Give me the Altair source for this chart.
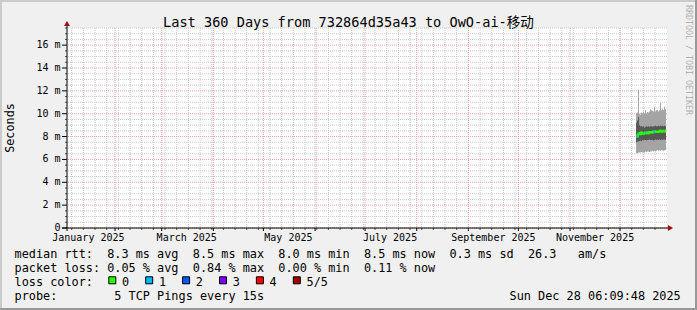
import math
import altair as alt
import pandas as pd

# ---------------- values ----------------
title_text = "Last 360 Days from 732864d35a43 to OwO-ai-移动"
y_title = "Seconds"
watermark = "RRDTOOL / TOBI OETIKER"

# smoke columns (ms), one per RRD step
rtt_min = [6.55, 6.55, 6.6, 6.6, 6.6, 6.65, 6.6, 6.65, 6.6, 6.7, 6.65, 6.7, 6.7, 6.65, 6.7,
           6.7, 6.75, 6.7, 6.75, 6.7, 6.75, 6.8, 6.75, 6.8, 6.75, 6.8, 6.8, 6.75, 6.8, 6.8]
rtt_p2 = [7.5, 7.55, 7.6, 7.6, 7.65, 7.6, 7.7, 7.65, 7.7, 7.7, 7.65, 7.7, 7.7, 7.75, 7.7,
          7.7, 7.7, 7.65, 7.7, 7.75, 7.7, 7.75, 7.7, 7.75, 7.7, 7.75, 7.7, 7.75, 7.75, 7.7]
rtt_median = [8.1, 8.0, 8.2, 8.3, 8.2, 8.35, 8.3, 8.25, 8.3, 8.35, 8.3, 8.35, 8.3, 8.4, 8.35,
              8.4, 8.35, 8.45, 8.4, 8.45, 8.4, 8.45, 8.4, 8.45, 8.5, 8.45, 8.45, 8.5, 8.45, 8.5]
rtt_p4 = [9.2, 9.4, 9.7, 9.0, 8.9, 8.9, 8.85, 8.9, 8.8, 8.85, 8.9, 8.85, 8.9, 8.85, 8.9,
          8.9, 8.85, 8.9, 8.9, 8.95, 8.9, 8.9, 8.95, 8.9, 8.95, 8.9, 8.95, 8.9, 8.95, 8.9]
rtt_max = [10.0, 10.1, 12.1, 10.0, 9.9, 10.1, 10.0, 10.2, 10.0, 10.3, 10.0, 10.15, 10.1, 10.2, 10.4,
           10.3, 10.25, 10.2, 10.6, 10.2, 10.3, 10.35, 10.2, 10.3, 10.95, 10.3, 10.4, 10.3, 10.6, 10.4]
loss_pct = [0.84, 0.4, 0, 0, 0, 0, 0, 0, 0, 0.3, 0, 0, 0, 0, 0,
            0, 0, 0.25, 0.2, 0, 0, 0, 0, 0, 0, 0, 0, 0, 0, 0]
first_sample = "2025-12-10 14:00"
step_minutes = 864          # 0.6 day per RRD step
pings = 5

x_start = "2025-01-03 04:00"
x_end = "2025-12-29 04:00"
y_max = 17.5

y_label_values = [0, 2, 4, 6, 8, 10, 12, 14, 16]
month_label_dates = ["2025-01-16", "2025-03-16", "2025-05-16", "2025-07-16", "2025-09-16", "2025-11-16"]
month_label_text = ["January 2025", "March 2025", "May 2025", "July 2025", "September 2025", "November 2025"]

loss_levels = ["0", "1", "2", "3", "4", "5/5"]
loss_colors = ["#26ff00", "#00b8ff", "#0059ff", "#7e00ff", "#ff0000", "#a10000"]

rtt_stats = [8.3, 8.5, 8.0, 8.5, 0.3]   # avg max min now sd
rtt_am = 26.3
loss_stats = [0.05, 0.84, 0.00, 0.11]   # avg max min now
probe_text = "5 TCP Pings every 15s"
stamp = "Sun Dec 28 06:09:48 2025"

# ---------------- helpers ----------------
MONO = "DejaVu Sans Mono"
NB = "\u00a0"


def ms(ts):
    return int(pd.Timestamp(ts, tz="UTC").value // 10**6)


def ms_index(idx):
    return [int(v // 10**6) for v in idx.asi8]


xs = alt.Scale(type="utc", domain=[ms(x_start), ms(x_end)], nice=False)
ys = alt.Scale(domain=[0, y_max], nice=False, zero=False)


def X(f="t"):
    return alt.X(f + ":T", scale=xs, axis=None)


def Y(f="v"):
    return alt.Y(f + ":Q", scale=ys, axis=None)


def txt(s, x, y, **kw):
    return alt.Chart(pd.DataFrame({"s": [s]})).mark_text(**kw).encode(
        text="s:N", x=alt.value(x), y=alt.value(y))


def nb(s):
    return s.replace(" ", NB)


# ---------------- tables ----------------
t_idx = pd.date_range(first_sample, periods=len(rtt_median), freq=f"{step_minutes}min", tz="UTC")
t_ms = ms_index(t_idx)
smoke = pd.DataFrame({
    "t": t_ms,
    "t_end": [v + step_minutes * 60000 for v in t_ms],
    "lo": rtt_min, "p2": rtt_p2, "med": rtt_median, "p4": rtt_p4, "hi": rtt_max,
    "loss": loss_pct,
})
smoke["lvl"] = [0 if p == 0 else min(pings, math.ceil(p / 100 * pings)) for p in smoke["loss"]]
smoke_ext = pd.concat([smoke, smoke.iloc[[-1]].assign(t=smoke["t_end"].iloc[-1])], ignore_index=True)

weeks = pd.DataFrame({"t": ms_index(pd.date_range("2025-01-06", "2025-12-28", freq="W-MON", tz="UTC"))})
months = pd.DataFrame({"t": ms_index(pd.date_range("2025-02-01", "2025-12-01", freq="MS", tz="UTC"))})
minor_y = pd.DataFrame({"v": [i * 0.5 for i in range(1, 36) if (i * 0.5) % 2 != 0]})
major_y = pd.DataFrame({"v": y_label_values})
ylab = pd.DataFrame({"v": y_label_values,
                     "s": [f"{v} m" if v else "0" + NB + NB for v in y_label_values]})
xlab = pd.DataFrame({"t": [ms(d) for d in month_label_dates], "s": month_label_text})

GRID = "#c9c9c9"
MGRID = "#eca4a4"

layers = [
    alt.Chart(weeks).mark_rule(color=GRID, strokeDash=[1, 1], strokeWidth=1).encode(x=X()),
    alt.Chart(minor_y).mark_rule(color=GRID, strokeDash=[1, 1], strokeWidth=1).encode(y=Y()),
    alt.Chart(months).mark_rule(color=MGRID, strokeDash=[1, 1], strokeWidth=1).encode(x=X()),
    alt.Chart(major_y).mark_rule(color=MGRID, strokeDash=[1, 1], strokeWidth=1).encode(y=Y()),
    # smoke
    alt.Chart(smoke_ext).mark_area(interpolate="step-after", color="#a4a4a4", opacity=1).encode(
        x=X(), y=Y("lo"), y2="hi:Q"),
    alt.Chart(smoke_ext).mark_area(interpolate="step-after", color="#585858", opacity=1).encode(
        x=X(), y=Y("p2"), y2="p4:Q"),
    alt.Chart(smoke_ext).mark_line(interpolate="step-after", color=loss_colors[0], strokeWidth=2).encode(
        x=X(), y=Y("med")),
    alt.Chart(smoke).mark_rule(strokeWidth=2).encode(
        x=X(), x2="t_end:T", y=Y("med"),
        color=alt.Color("lvl:O", scale=alt.Scale(domain=list(range(6)), range=loss_colors), legend=None)),
    # ticks
    alt.Chart(major_y).mark_rule(color="black").encode(y=Y(), x=alt.value(-5), x2=alt.value(0)),
    alt.Chart(minor_y).mark_rule(color="#555555").encode(y=Y(), x=alt.value(-2), x2=alt.value(0)),
    alt.Chart(months).mark_rule(color="black").encode(x=X(), y=alt.value(200), y2=alt.value(203)),
    alt.Chart(weeks).mark_rule(color="#555555").encode(x=X(), y=alt.value(200), y2=alt.value(202)),
    # axes lines
    alt.Chart(major_y.head(1)).mark_rule(color="black").encode(
        x=alt.value(0), y=alt.value(-5), y2=alt.value(203)),
    alt.Chart(major_y.head(1)).mark_rule(color="black").encode(
        y=alt.value(200), x=alt.value(-5), x2=alt.value(603)),
    alt.Chart(major_y.head(1)).mark_point(shape="triangle-up", filled=True, size=36,
                                          color="#a01010", opacity=1).encode(
        x=alt.value(0), y=alt.value(-4.5)),
    alt.Chart(major_y.head(1)).mark_point(shape="triangle-right", filled=True, size=36,
                                          color="#a01010", opacity=1).encode(
        x=alt.value(603.5), y=alt.value(200)),
    # tick labels
    alt.Chart(ylab).mark_text(font=MONO, fontSize=10, align="right", baseline="middle").encode(
        y=Y(), x=alt.value(-6.4), text="s:N"),
    alt.Chart(xlab).mark_text(font=MONO, fontSize=10, align="center", baseline="alphabetic").encode(
        x=X(), y=alt.value(212.5), text="s:N"),
]
main = alt.layer(*layers)

sw = pd.DataFrame({"i": list(range(6)), "c": loss_colors, "s": loss_levels})
sx = alt.Scale(domain=[0, 5], range=[45.3, 229.8], nice=False, zero=False)
swatches = alt.layer(
    alt.Chart(sw).mark_square(size=49, filled=True, stroke="black", strokeWidth=1, opacity=1).encode(
        x=alt.X("i:Q", scale=sx, axis=None), y=alt.value(252.3), fill=alt.Fill("c:N", scale=None)),
    alt.Chart(sw).mark_text(font=MONO, fontSize=11.85, align="left", baseline="alphabetic", dx=9.7).encode(
        x=alt.X("i:Q", scale=sx, axis=None), y=alt.value(258), text="s:N"),
)

row1 = (f"median rtt:  {rtt_stats[0]:.1f} ms avg  {rtt_stats[1]:.1f} ms max  {rtt_stats[2]:.1f} ms min  "
        f"{rtt_stats[3]:.1f} ms now  {rtt_stats[4]:.1f} ms sd  {rtt_am:.1f}   am/s")
row2 = (f"packet loss: {loss_stats[0]:.2f} % avg  {loss_stats[1]:.2f} % max  "
        f"{loss_stats[2]:.2f} % min  {loss_stats[3]:.2f} % now")
row3 = "loss color:"
row4 = "probe:        " + probe_text

LX = -52.5
texts = [
    txt(title_text, 281.5, -1.5, font=MONO + ", Noto Sans CJK SC", fontSize=13.6, align="center",
        baseline="alphabetic"),
    txt(y_title, -57, 100, font=MONO, fontSize=11.8, angle=270, align="center", baseline="middle"),
    txt(watermark, 621, 32, font=MONO, fontSize=8.3, angle=90, align="center", baseline="middle",
        color="#b0b0b0"),
    txt(nb(row1), LX, 229.7, font=MONO, fontSize=11.85, align="left", baseline="alphabetic"),
    txt(nb(row2), LX, 243.9, font=MONO, fontSize=11.85, align="left", baseline="alphabetic"),
    txt(nb(row3), LX, 258, font=MONO, fontSize=11.85, align="left", baseline="alphabetic"),
    txt(nb(row4), LX, 272, font=MONO, fontSize=11.85, align="left", baseline="alphabetic"),
    txt(stamp, 613.7, 272, font=MONO, fontSize=11.85, align="right", baseline="alphabetic"),
]

one = pd.DataFrame({"a": [0]})
frame = [
    alt.Chart(one).mark_rule(color="#cbcbcb", strokeWidth=2).encode(
        y=alt.value(-27), x=alt.value(-67), x2=alt.value(630)),
    alt.Chart(one).mark_rule(color="#cbcbcb", strokeWidth=2).encode(
        x=alt.value(-66), y=alt.value(-28), y2=alt.value(282)),
    alt.Chart(one).mark_rule(color="#999999", strokeWidth=2).encode(
        y=alt.value(281), x=alt.value(-67), x2=alt.value(630)),
    alt.Chart(one).mark_rule(color="#999999", strokeWidth=2).encode(
        x=alt.value(629), y=alt.value(-28), y2=alt.value(282)),
]

chart = alt.layer(main, swatches, *texts, *frame).resolve_scale(x="independent").properties(
    width=600, height=200,
    padding={"left": 67, "top": 28, "right": 30, "bottom": 82},
    autosize=alt.AutoSizeParams(type="none"),
    background="#f0f0f0",
).configure_view(fill="white", stroke=None)

chart.save("out.html", embed_options={"renderer": "svg", "actions": False})
